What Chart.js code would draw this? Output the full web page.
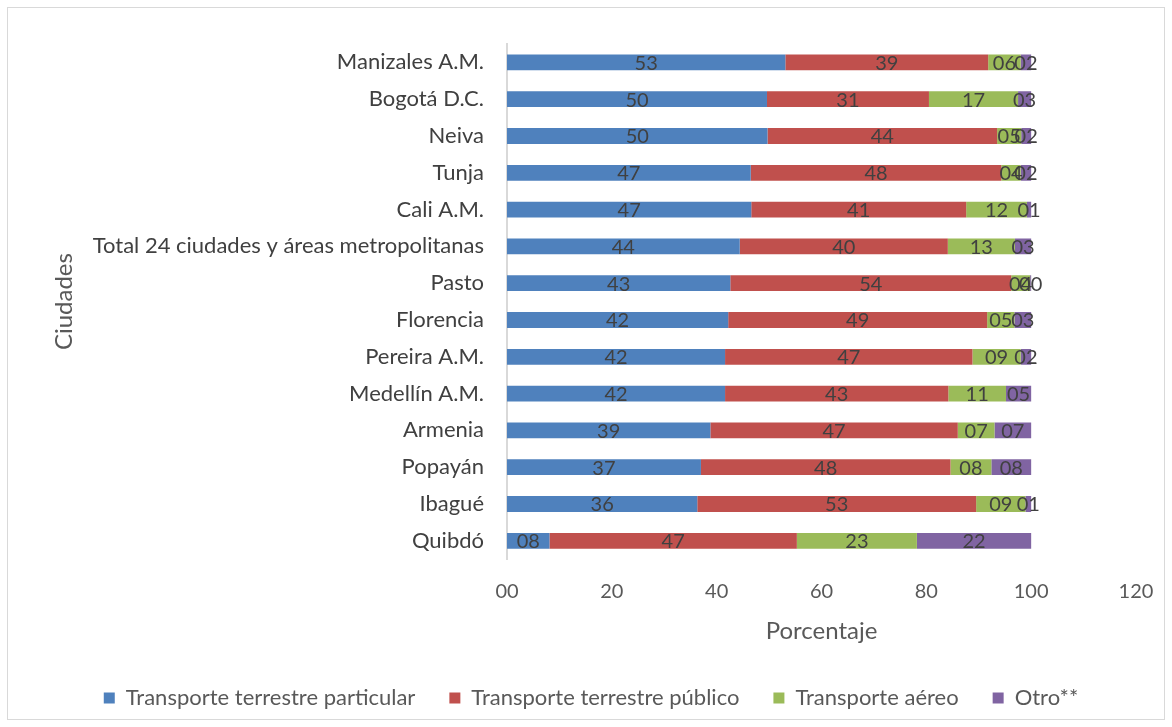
<!DOCTYPE html>
<html>
<head>
<meta charset="utf-8">
<script src="https://cdn.jsdelivr.net/npm/chart.js@4.4.1/dist/chart.umd.min.js"></script>
<style>
  body { margin: 0; background: #fff; }
  #wrap { position: absolute; left: 7px; top: 7px; width: 1156px; height: 711px; border: 1px solid #d9d9d9; }
  #c { position: absolute; left: -8px; top: -8px; }
</style>
</head>
<body>
<div id="wrap"><canvas id="c" width="1172" height="727"></canvas></div>
<script>
// Ciudades (de arriba hacia abajo)
const ciudades = ['Manizales A.M.', 'Bogotá D.C.', 'Neiva', 'Tunja', 'Cali A.M.',
  'Total 24 ciudades y áreas metropolitanas', 'Pasto', 'Florencia', 'Pereira A.M.',
  'Medellín A.M.', 'Armenia', 'Popayán', 'Ibagué', 'Quibdó'];

// Porcentajes por tipo de transporte
const particular = [53.1, 49.6, 49.7, 46.5, 46.6, 44.4, 42.6, 42.2, 41.6, 41.6, 38.8, 37.0, 36.3, 8.1];
const publico    = [38.7, 30.9, 43.8, 47.8, 41.0, 39.7, 53.6, 49.4, 47.2, 42.6, 47.2, 47.6, 53.2, 47.2];
const aereo      = [6.2, 17.0, 4.6, 3.7, 11.6, 12.8, 3.6, 5.2, 9.2, 11.0, 7.0, 7.8, 9.4, 22.9];
const otro       = [2.0, 2.5, 1.9, 2.0, 0.8, 3.1, 0.2, 3.2, 2.0, 4.8, 7.0, 7.6, 1.1, 21.8];

const ticksX = [0, 20, 40, 60, 80, 100, 120];

const fmt = v => String(Math.round(v)).padStart(2, '0');
const FONT = 'Lato, "Open Sans", sans-serif';

// etiquetas de datos en el centro de cada barra
const etiquetas = {
  id: 'etiquetas',
  afterDatasetsDraw(chart) {
    const ctx = chart.ctx;
    ctx.save();
    ctx.font = '20px ' + FONT;
    ctx.fillStyle = '#404040';
    ctx.textAlign = 'center';
    ctx.textBaseline = 'middle';
    chart.data.datasets.forEach((ds, i) => {
      chart.getDatasetMeta(i).data.forEach((el, j) => {
        ctx.fillText(fmt(ds.data[j]), (el.x + el.base) / 2, el.y + 1);
      });
    });
    ctx.restore();
  }
};

const ctx = document.getElementById('c').getContext('2d');
new Chart(ctx, {
  type: 'bar',
  data: {
    labels: ciudades,
    datasets: [
      { label: 'Transporte terrestre particular', data: particular, backgroundColor: '#4F81BD' },
      { label: 'Transporte terrestre público', data: publico, backgroundColor: '#C0504D' },
      { label: 'Transporte aéreo', data: aereo, backgroundColor: '#9BBB59' },
      { label: 'Otro**', data: otro, backgroundColor: '#8064A2' }
    ]
  },
  options: {
    indexAxis: 'y',
    responsive: false,
    animation: false,
    barPercentage: 0.43,
    categoryPercentage: 1,
    layout: { padding: { left: 46, right: 36, top: 44, bottom: 8 } },
    scales: {
      x: {
        stacked: true,
        min: 0, max: 120,
        afterBuildTicks: s => { s.ticks = ticksX.map(v => ({ value: v })); },
        ticks: { callback: v => fmt(v), color: '#595959', font: { size: 20, family: FONT }, padding: 12 },
        grid: { display: false },
        border: { display: false },
        title: { display: true, text: 'Porcentaje', color: '#595959', font: { size: 24, family: FONT }, padding: { top: 2, bottom: 7 } }
      },
      y: {
        stacked: true,
        afterFit: s => { s.width = 461; },
        ticks: { color: '#404040', font: { size: 22, family: FONT }, padding: 15 },
        grid: { display: false },
        border: { color: '#d9d9d9', width: 2 },
        title: { display: true, text: 'Ciudades', color: '#595959', font: { size: 24, family: FONT } }
      }
    },
    plugins: {
      legend: {
        position: 'bottom',
        labels: { boxWidth: 11, boxHeight: 11, color: '#595959', font: { size: 22, family: FONT }, padding: 34 }
      },
      tooltip: { enabled: false }
    }
  },
  plugins: [etiquetas]
});
</script>
</body>
</html>
